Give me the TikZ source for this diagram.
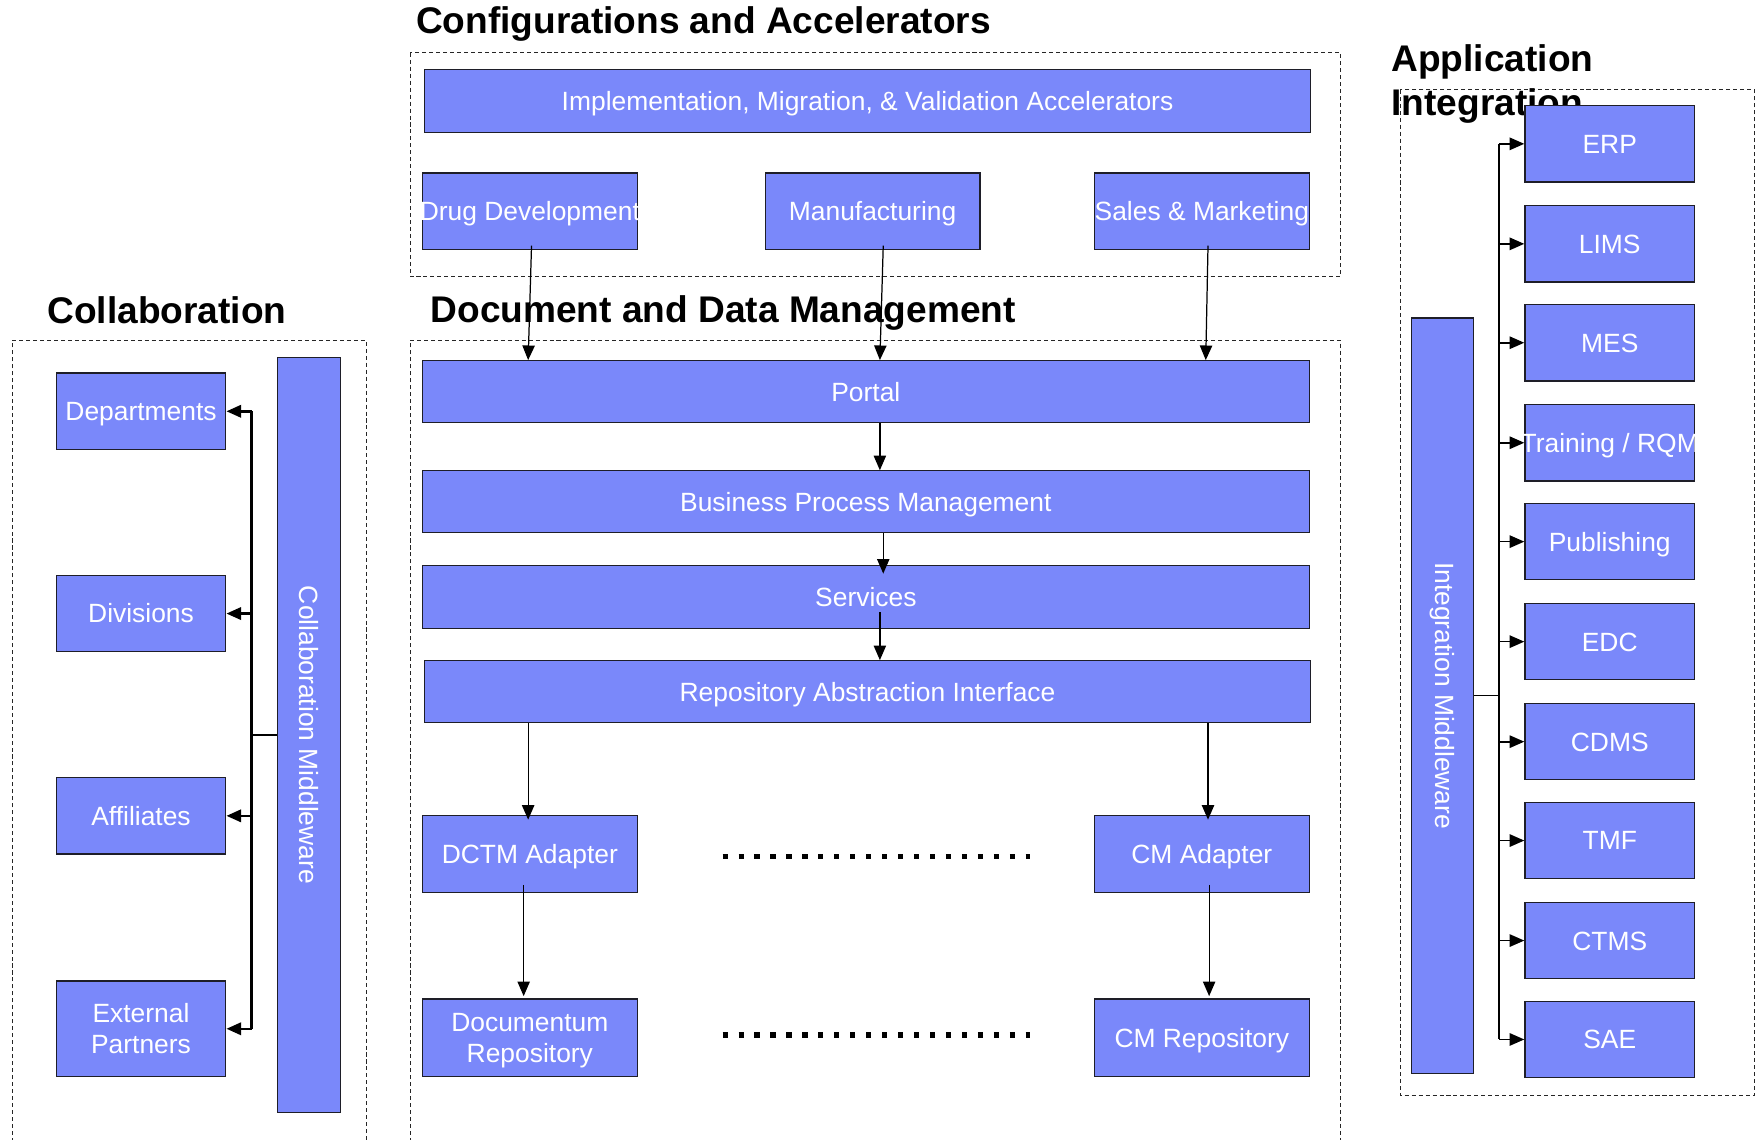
\documentclass[tikz,border=0pt]{standalone}
\usepackage{fontspec}
\setmainfont{Liberation Sans}
\usetikzlibrary{arrows.meta,calc}
\definecolor{boxblue}{RGB}{122,136,250}
\definecolor{edge}{RGB}{30,30,40}
\tikzset{
  boxbase/.style={draw=edge, line width=1.1pt, fill=boxblue, text=white, inner sep=0pt,
    align=center, font=\fontsize{23.5}{28}\selectfont},
  box/.style={boxbase, text height=16.8pt, text depth=0pt},
  box2/.style={boxbase, text height=44.8pt, text depth=0pt},
  boxrot/.style={boxbase},
  title/.style={anchor=base west, font=\bfseries\fontsize{33}{39}\selectfont, inner sep=0pt, align=left},
  frame/.style={draw=black!85, line width=1pt, dash pattern=on 3.6pt off 2.6pt},
  arr/.style={draw=black, line width=1.1pt, -{Triangle[length=13pt,width=11pt]}},
  busarr/.style={draw=black, line width=2.2pt, -{Triangle[length=13pt,width=11pt]}},
  busarr2/.style={draw=black, line width=1.5pt, -{Triangle[length=13pt,width=11pt]}},
  dots/.style={draw=black, line width=4.6pt, dash pattern=on 4.6pt off 9.6pt},
}
\begin{document}
\begin{tikzpicture}[x=1pt,y=-1pt]
\useasboundingbox (0,0) rectangle (1568,1014);

% ---------- frames ----------
\draw[frame] (365,47) rectangle (1193,246);
\draw[frame] (365,1016) -- (365,303) -- (1193,303) -- (1193,1016);
\draw[frame] (11,1016) -- (11,303) -- (326,303) -- (326,1016);
\draw[frame] (1246,80) rectangle (1561,975);

% ---------- titles ----------
\node[title] (tconf) at (370,30) {Configurations and Accelerators};
\node[title] (tddm) at (383,287) {Document and Data Management};
\node[title] (tcol) at (42,288) {Collaboration};
\node[title] (tapp1) at (1238,64) {Application};
\node[title] (tapp2) at (1238,103) {Integration};

% ---------- configurations ----------
\node[box, minimum width=788, minimum height=56] (impl) at (772,90) {Implementation, Migration, \& Validation Accelerators};
\node[box, minimum width=191, minimum height=68] (drug) at (471.5,188) {\makebox[0pt][c]{Drug Development}};
\node[box, minimum width=191, minimum height=68] (manu) at (776.5,188) {Manufacturing};
\node[box, minimum width=191, minimum height=68] (sales) at (1069.5,188) {\makebox[0pt][c]{Sales \& Marketing}};

% ---------- document and data management ----------
\node[box, minimum width=789, minimum height=55] (portal) at (770.5,348.5) {Portal};
\node[box, minimum width=789, minimum height=55] (bpm) at (770.5,446.5) {Business Process Management};
\node[box, minimum width=789, minimum height=56] (serv) at (770.5,531) {Services};
\node[box, minimum width=788, minimum height=55] (rai) at (772,615.5) {Repository Abstraction Interface};
\node[box, minimum width=191, minimum height=68] (dctm) at (471.5,760) {DCTM Adapter};
\node[box, minimum width=191, minimum height=68] (cmad) at (1069.5,760) {CM Adapter};
\node[box2, minimum width=191, minimum height=69] (docrep) at (471.5,923.5) {Documentum\\Repository};
\node[box, minimum width=191, minimum height=69] (cmrep) at (1069.5,923.5) {CM Repository};

\coordinate (dA1) at (643,762); \coordinate (dA2) at (917,762);
\coordinate (dB1) at (643,921); \coordinate (dB2) at (917,921);
\draw[dots] (dA1) -- (dA2);
\draw[dots] (dB1) -- (dB2);

\draw[arr] ([shift={(1.5,-4)}]drug.south) -- ([shift={(-1.5,0)}]portal.north -| drug.south);
\draw[arr] ([shift={(9.5,-4)}]manu.south) -- ([shift={(6.5,0)}]portal.north -| manu.south);
\draw[arr] ([shift={(5.5,-4)}]sales.south) -- ([shift={(3.5,0)}]portal.north -| sales.south);
\draw[arr] ([shift={(12.5,0)}]portal.south) -- ([shift={(12.5,0)}]bpm.north);
\draw[arr] ([shift={(15.5,0)}]bpm.south) -- ([shift={(15.5,8)}]serv.north);
\draw[arr] ([shift={(12.5,14)}]serv.center) -- ([shift={(11,0)}]rai.north);
\draw[arr] (rai.south -| dctm.north) ++(-1.5,0) -- ([shift={(-1.5,4)}]dctm.north);
\draw[arr] (rai.south -| cmad.north) ++(5.5,0) -- ([shift={(5.5,4)}]cmad.north);
\draw[arr] ([shift={(-5.5,-7)}]dctm.south) -- ([shift={(-5.5,-2)}]docrep.north);
\draw[arr] ([shift={(6.5,-7)}]cmad.south) -- ([shift={(6.5,-2)}]cmrep.north);

% ---------- collaboration ----------
\node[box, minimum width=151, minimum height=68] (dept) at (125.5,366) {Departments};
\node[box, minimum width=151, minimum height=68] (div) at (125.5,546) {Divisions};
\node[box, minimum width=151, minimum height=68] (aff) at (125.5,726) {Affiliates};
\node[box2, minimum width=151, minimum height=85] (ext) at (125.5,915.5) {External\\Partners};
\node[boxrot, minimum width=56, minimum height=672] (cmw) at (275,654) {\rotatebox{-90}{Collaboration Middleware}};

\coordinate (cbus) at (224,654);
\draw[line width=2.2pt] (cmw.west |- cbus) -- (cbus);
\draw[line width=2.2pt] (cbus |- dept.east) -- (cbus |- ext.east);
\foreach \n in {dept,div,aff,ext}{
  \draw[busarr] (cbus |- \n.east) -- (\n.east);
}

% ---------- application integration ----------
\node[boxrot, minimum width=55, minimum height=672] (imw) at (1283.5,619) {\rotatebox{-90}{Integration Middleware}};
\foreach \n/\t/\y in {erp/ERP/128, lims/LIMS/217, mes/MES/305, trn/{\makebox[0pt][c]{Training / RQM}}/394,
                      pub/Publishing/482, edc/EDC/571, cdms/CDMS/660, tmf/TMF/748, ctms/CTMS/837, sae/SAE/925}{
  \node[box, minimum width=151, minimum height=68] (\n) at (1432.5,\y) {\t};
}
\coordinate (abus) at (1334,619);
\draw[line width=1.5pt] (imw.east |- abus) -- (abus);
\draw[line width=1.5pt] (abus |- erp.west) -- (abus |- sae.west);
\foreach \n in {erp,lims,mes,trn,pub,edc,cdms,tmf,ctms,sae}{
  \draw[busarr2] (abus |- \n.west) -- (\n.west);
}
\end{tikzpicture}
\end{document}
